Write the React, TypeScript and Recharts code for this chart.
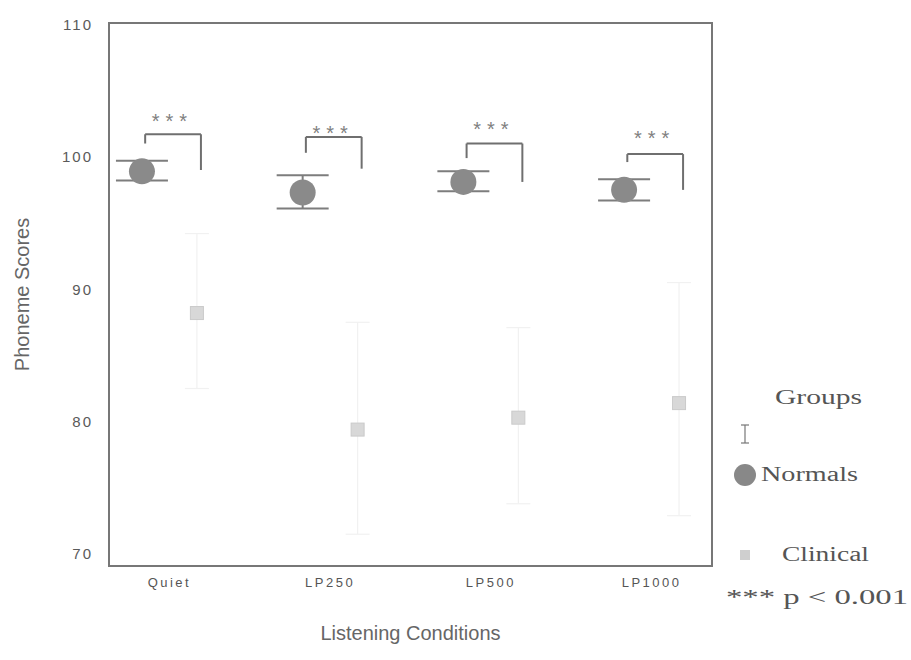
import React from 'react';
import { ScatterChart, Scatter, XAxis, YAxis, ErrorBar, ReferenceLine, ReferenceArea } from 'recharts';

// values
const categories = ['Quiet', 'LP250', 'LP500', 'LP1000'];
const normalsMean = [98.9, 97.3, 98.1, 97.5];
const normalsLow = [98.2, 96.1, 97.4, 96.7];
const normalsHigh = [99.7, 98.6, 98.9, 98.3];
const clinicalMean = [88.2, 79.4, 80.3, 81.4];
const clinicalLow = [82.5, 71.5, 73.8, 72.9];
const clinicalHigh = [94.2, 87.5, 87.1, 90.5];
const bracketTop = [101.7, 101.5, 101.0, 100.2];
const bracketNormalsEnd = [101.0, 100.3, 99.9, 99.6];
const bracketClinicalEnd = [99.0, 99.1, 98.1, 97.5];
const starLevel = [103.1, 102.2, 102.5, 101.8];
const sigMarks = ['***', '***', '***', '***'];
const yTicks = [70, 80, 90, 100, 110];

const GROUP_OFFSET = 0.171;
const X_DOMAIN: [number, number] = [-0.376, 3.376];
const Y_DOMAIN: [number, number] = [69.1, 110.1];

const normalsData = categories.map((c, i) => ({
  name: c,
  x: i - GROUP_OFFSET,
  y: normalsMean[i],
  err: [normalsMean[i] - normalsLow[i], normalsHigh[i] - normalsMean[i]],
}));

const clinicalData = categories.map((c, i) => ({
  name: c,
  x: i + GROUP_OFFSET,
  y: clinicalMean[i],
  err: [clinicalMean[i] - clinicalLow[i], clinicalHigh[i] - clinicalMean[i]],
}));

const starData = categories.map((c, i) => ({ name: c, x: i, y: starLevel[i], mark: sigMarks[i] }));

const sans = '"Liberation Sans", Arial, sans-serif';
const serif = '"Liberation Serif", "Times New Roman", serif';
const AXIS = '#777';

const NormalDot = (p: any) => <circle cx={p.cx} cy={p.cy} r={13} fill="#8a8a8a" />;
const ClinicalSquare = (p: any) => (
  <rect x={p.cx - 6.5} y={p.cy - 6.5} width={13} height={13} fill="#d8d8d8" stroke="#cacaca" strokeWidth={1} />
);
const Stars = (p: any) => (
  <text x={p.cx + 3} y={p.cy + 12} textAnchor="middle" fontFamily={sans} fontSize={20} letterSpacing={6} fill="#808080">
    {p.payload.mark}
  </text>
);

const GroupsLegend = () => (
  <svg width={191} height={250} style={{ position: 'absolute', left: 720, top: 370 }}>
    <text x={55} y={34} fontFamily={serif} fontSize={20} fill="#555" textLength={87} lengthAdjust="spacingAndGlyphs">Groups</text>
    <g stroke="#777" strokeWidth={1.2}>
      <line x1={21} y1={55} x2={29} y2={55} />
      <line x1={25} y1={55} x2={25} y2={73} />
      <line x1={21} y1={73} x2={29} y2={73} />
    </g>
    <circle cx={25} cy={105} r={11} fill="#888" />
    <text x={41} y={111} fontFamily={serif} fontSize={20} fill="#555" textLength={97} lengthAdjust="spacingAndGlyphs">Normals</text>
    <rect x={20} y={180} width={10} height={10} fill="#cfcfcf" />
    <text x={62} y={191} fontFamily={serif} fontSize={20} fill="#555" textLength={87} lengthAdjust="spacingAndGlyphs">Clinical</text>
    <text x={6} y={234} fontFamily={serif} fontSize={20} fill="#555" textLength={182} lengthAdjust="spacingAndGlyphs">*** p &lt; 0.001</text>
  </svg>
);

export default function App() {
  return (
    <div style={{ position: 'absolute', left: 0, top: 0, width: 911, height: 660, background: '#fff' }}>
      <ScatterChart width={911} height={660} margin={{ top: 23, right: 199, bottom: 14, left: 9 }}>
        <XAxis
          type="number"
          dataKey="x"
          domain={X_DOMAIN}
          ticks={[0, 1, 2, 3]}
          tickFormatter={(v: number) => categories[Math.round(v)]}
          allowDataOverflow
          axisLine={false}
          tickLine={false}
          tickSize={0}
          tickMargin={12}
          height={80}
          tick={{ fontSize: 13, fill: '#555', fontFamily: sans, letterSpacing: 2.5 }}
          label={{ value: 'Listening Conditions', position: 'insideBottom', offset: 6, fontSize: 20, fill: '#666', fontFamily: sans }}
        />
        <YAxis
          type="number"
          dataKey="y"
          domain={Y_DOMAIN}
          ticks={yTicks}
          allowDataOverflow
          axisLine={false}
          tickLine={false}
          tickSize={0}
          tickMargin={16}
          width={100}
          tick={{ fontSize: 15, fill: '#5a5a5a', fontFamily: sans, letterSpacing: 2 }}
          label={{ value: 'Phoneme Scores', angle: -90, position: 'insideLeft', offset: 13, fontSize: 20, fill: '#666', fontFamily: sans, style: { textAnchor: 'middle' } }}
        />
        <ReferenceArea x1={X_DOMAIN[0]} x2={X_DOMAIN[1]} y1={Y_DOMAIN[0]} y2={Y_DOMAIN[1]} fill="none" stroke={AXIS} strokeWidth={2} ifOverflow="visible" />
        <Scatter data={clinicalData} shape={ClinicalSquare} isAnimationActive={false}>
          <ErrorBar dataKey="err" direction="y" width={12} stroke="#f1f1f1" strokeWidth={1.2} />
        </Scatter>
        <Scatter data={normalsData} shape={NormalDot} isAnimationActive={false}>
          <ErrorBar dataKey="err" direction="y" width={26} stroke="#7d7d7d" strokeWidth={2} />
        </Scatter>
        {categories.map((c, i) => {
          const xl = i - GROUP_OFFSET + 0.02;
          const xr = i + GROUP_OFFSET + 0.025;
          return (
            <React.Fragment key={c}>
              <ReferenceLine segment={[{ x: xl, y: bracketNormalsEnd[i] }, { x: xl, y: bracketTop[i] }]} stroke="#6f6f6f" strokeWidth={2} />
              <ReferenceLine segment={[{ x: xl, y: bracketTop[i] }, { x: xr, y: bracketTop[i] }]} stroke="#6f6f6f" strokeWidth={2} />
              <ReferenceLine segment={[{ x: xr, y: bracketTop[i] }, { x: xr, y: bracketClinicalEnd[i] }]} stroke="#6f6f6f" strokeWidth={2} />
            </React.Fragment>
          );
        })}
        <Scatter data={starData} shape={Stars} isAnimationActive={false} />
      </ScatterChart>
      <GroupsLegend />
    </div>
  );
}
